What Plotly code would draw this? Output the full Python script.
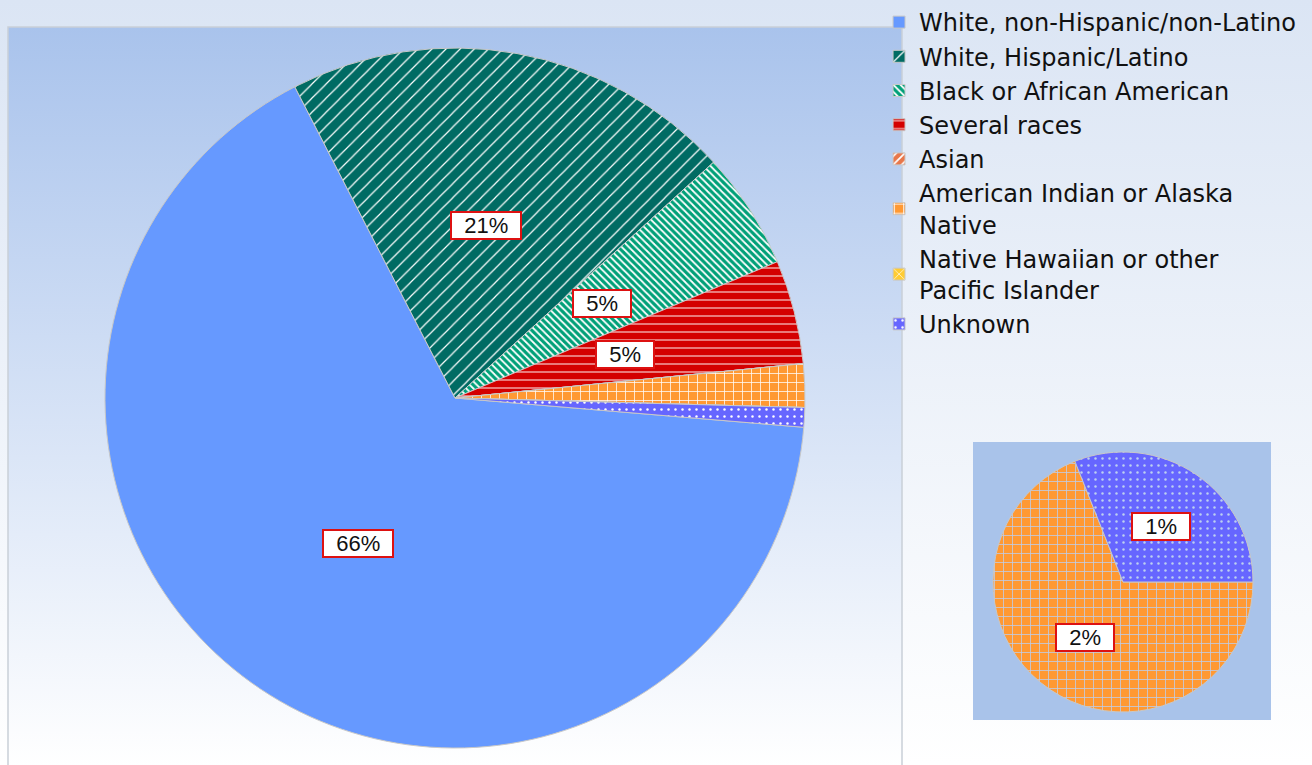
import math
import plotly.graph_objects as go

# data
labels = [
    "White, non-Hispanic/non-Latino",
    "White, Hispanic/Latino",
    "Black or African American",
    "Several races",
    "Asian",
    "American Indian or Alaska<br>Native",
    "Native Hawaiian or other<br>Pacific Islander",
    "Unknown",
]
values = [66.1, 20.8, 5.4, 4.8, 0, 2.0, 0, 0.9]
colors = ["#6699ff", "#006b63", "#00a078", "#d40000", "#e8774a", "#ff9933", "#ffcc33", "#6666ff"]
shapes = ["", "/", "\\", "-", "/", "+", "x", "."]
pat_size = [8, 10, 5, 8, 6, 9, 8, 7]
pat_solid = [0.2, 0.12, 0.35, 0.12, 0.3, 0.16, 0.15, 0.1]
main_labelled = [0, 1, 2, 3]      # slices with a label on the big pie
inset_idx = [5, 7]                # slices broken out in the small pie

W, H = 1312, 765
total = sum(values)

# geometry of the two pies (pixels, y from top)
main_c, main_r, main_rot = (455, 398), 350, 94.8
ins_c, ins_r, ins_rot = (1123, 582), 130, 90


def dom(c, r):
    return dict(x=[(c[0] - r) / W, (c[0] + r) / W],
                y=[(H - c[1] - r) / H, (H - c[1] + r) / H])


def label_pos(vals, i, c, r, rot, frac):
    # mid angle of slice i, clockwise from 12 o'clock
    tot = sum(vals)
    start = rot + 360 * sum(vals[:i]) / tot
    mid = math.radians(start + 180 * vals[i] / tot)
    px = c[0] + frac * r * math.sin(mid)
    py = c[1] - frac * r * math.cos(mid)
    return px / W, 1 - py / H


fig = go.Figure()

# backgrounds
fig.add_trace(go.Scatter(
    x=[0, W, W, 0, 0], y=[0, 0, H, H, 0], mode="lines", fill="toself",
    line=dict(width=0), fillgradient=dict(type="vertical", colorscale=[[0, "#ffffff"], [1, "#dbe5f4"]]),
    hoverinfo="skip", showlegend=False))
fig.add_trace(go.Scatter(
    x=[8, 902, 902, 8, 8], y=[-2, -2, H - 27, H - 27, -2], mode="lines", fill="toself",
    line=dict(width=1.5, color="#c9cfd8"),
    fillgradient=dict(type="vertical", colorscale=[[0, "#ffffff"], [1, "#a9c3ec"]]),
    hoverinfo="skip", showlegend=False))
fig.add_trace(go.Scatter(
    x=[973, 1271, 1271, 973, 973], y=[H - 720, H - 720, H - 442, H - 442, H - 720], mode="lines",
    fill="toself", fillcolor="#a9c3ea", line=dict(width=0),
    hoverinfo="skip", showlegend=False))

# main pie
fig.add_trace(go.Pie(
    labels=labels, values=values, sort=False, direction="clockwise", rotation=main_rot,
    domain=dom(main_c, main_r), textinfo="none", hoverinfo="label+percent",
    marker=dict(colors=colors, line=dict(color="#c8c8c8", width=1),
                pattern=dict(shape=shapes, fgcolor="white", bgcolor=colors, size=pat_size,
                             solidity=pat_solid, fillmode="replace")),
))

# inset pie
ins_vals = [values[i] for i in inset_idx]
ins_cols = [colors[i] for i in inset_idx]
fig.add_trace(go.Pie(
    labels=[labels[i] for i in inset_idx], values=ins_vals, sort=False, direction="clockwise",
    rotation=ins_rot, domain=dom(ins_c, ins_r), textinfo="none", showlegend=False,
    hoverinfo="label", customdata=ins_vals,
    marker=dict(colors=ins_cols, line=dict(color="#c8c8c8", width=1),
                pattern=dict(shape=[shapes[i] for i in inset_idx], fgcolor="#bcd0f0",
                             bgcolor=ins_cols, size=[pat_size[i] for i in inset_idx],
                             solidity=[pat_solid[i] for i in inset_idx], fillmode="replace")),
))

# boxed percentage labels
lab_font = dict(family="Liberation Sans, Arial", size=22, color="#111111")


def box(x, y, txt):
    fig.add_annotation(x=x, y=y, xref="paper", yref="paper", showarrow=False,
                       xanchor="center", yanchor="middle",
                       text="&nbsp;&nbsp;" + txt + "&nbsp;&nbsp;", font=lab_font, height=25,
                       bgcolor="white", bordercolor="#dd1111", borderwidth=2, borderpad=0)


for i in main_labelled:
    x, y = label_pos(values, i, main_c, main_r, main_rot, 0.5)
    box(x, y, f"{round(100 * values[i] / total)}%")
for j, i in enumerate(inset_idx):
    x, y = label_pos(ins_vals, j, ins_c, ins_r, ins_rot, 0.52)
    box(x, y, f"{round(100 * values[i] / total)}%")

fig.update_layout(
    width=W, height=H, margin=dict(l=0, r=0, t=0, b=0),
    paper_bgcolor="white", plot_bgcolor="rgba(0,0,0,0)",
    xaxis=dict(range=[0, W], visible=False, fixedrange=True, domain=[0, 1]),
    yaxis=dict(range=[0, H], visible=False, fixedrange=True, domain=[0, 1]),
    legend=dict(x=0.670, y=1.0, xanchor="left", yanchor="top", bgcolor="rgba(0,0,0,0)",
                font=dict(family="DejaVu Sans, Verdana", size=24, color="#111111"),
                traceorder="normal"),
    font=dict(family="DejaVu Sans"),
)

fig.write_html("out.html", config={"displayModeBar": False},
               post_script="document.body.style.margin='0px';")
